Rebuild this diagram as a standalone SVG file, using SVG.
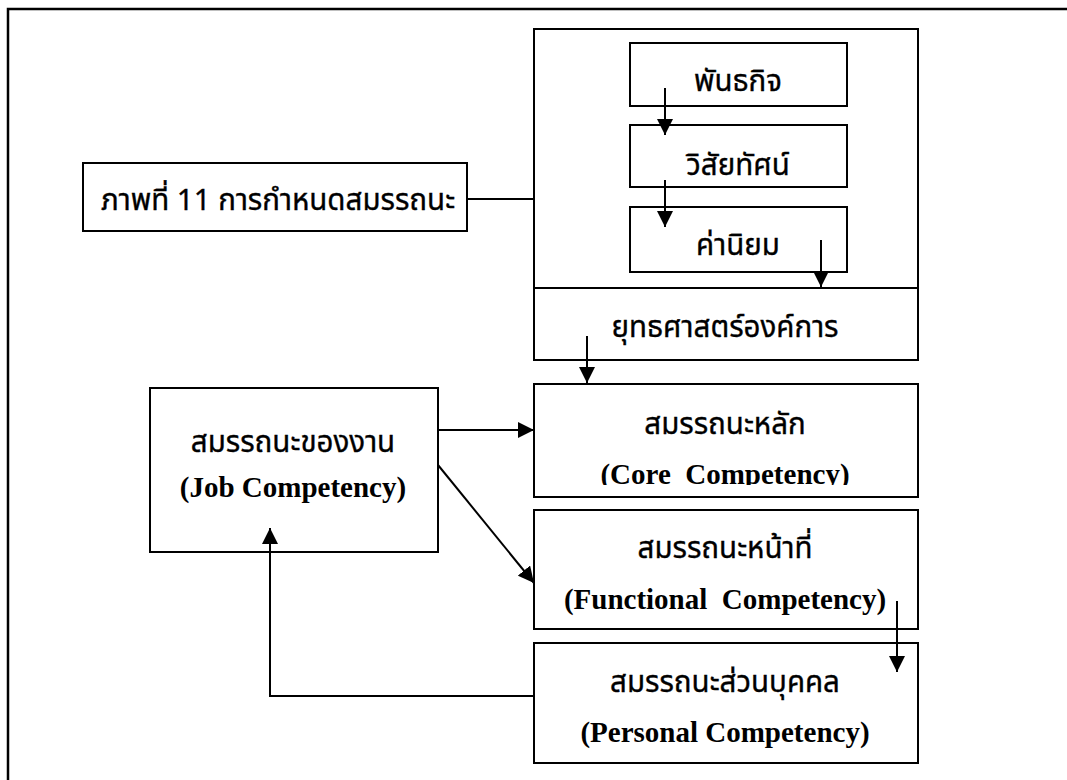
<svg xmlns="http://www.w3.org/2000/svg" width="1067" height="780" viewBox="0 0 1067 780">
<style>
.box{fill:#fff;stroke:#000;stroke-width:2}
.frame{fill:none;stroke:#000;stroke-width:2.5}
.th{font-family:"Noto Sans","Noto Sans Thai","DejaVu Sans",sans-serif;font-size:29.5px;fill:#000;stroke:#000;stroke-width:0.35;text-anchor:middle}
.en{font-family:"Liberation Serif",serif;font-weight:bold;font-size:29px;fill:#000;text-anchor:middle;white-space:pre}
.con{fill:none;stroke:#000;stroke-width:2}
</style>
<defs>
<marker id="ah" markerWidth="16" markerHeight="16" refX="16" refY="8" orient="auto" markerUnits="userSpaceOnUse">
<path d="M0,0 L16,8 L0,16 Z" fill="#000"/>
</marker>
<clipPath id="coreclip"><rect x="534" y="384" width="384" height="101"/></clipPath>
</defs>
<rect width="1067" height="780" fill="#fff"/>
<path class="frame" d="M8,780 L8,9 L1067,9"/>

<g id="org">
<rect class="box" x="534" y="29" width="384" height="331"/>
<line x1="534" y1="288" x2="918" y2="288" stroke="#000" stroke-width="2"/>
</g>
<g id="mission">
<rect class="box" x="630" y="43" width="217" height="63"/>
<text class="th" x="738" y="91">พันธกิจ</text>
</g>
<g id="vision">
<rect class="box" x="630" y="125" width="217" height="62"/>
<text class="th" x="738" y="175">วิสัยทัศน์</text>
</g>
<g id="values">
<rect class="box" x="630" y="207" width="217" height="65"/>
<text class="th" x="738" y="255">ค่านิยม</text>
</g>
<g id="strategy">
<text class="th" x="725" y="337">ยุทธศาสตร์องค์การ</text>
</g>
<g id="title">
<rect class="box" x="83" y="163" width="384" height="68"/>
<text class="th" x="278" y="210">ภาพที่ 11 การกำหนดสมรรถนะ</text>
</g>
<g id="core">
<rect class="box" x="534" y="384" width="384" height="113"/>
<text class="th" x="725" y="434">สมรรถนะหลัก</text>
<text class="en" x="725" y="484" clip-path="url(#coreclip)">(Core  Competency)</text>
</g>
<g id="functional">
<rect class="box" x="534" y="510" width="384" height="119"/>
<text class="th" x="725" y="558">สมรรถนะหน้าที่</text>
<text class="en" x="725" y="609">(Functional  Competency)</text>
</g>
<g id="personal">
<rect class="box" x="534" y="643" width="384" height="120"/>
<text class="th" x="725" y="692">สมรรถนะส่วนบุคคล</text>
<text class="en" x="725" y="742">(Personal Competency)</text>
</g>
<g id="job">
<rect class="box" x="150" y="388" width="288" height="164"/>
<text class="th" x="293" y="452">สมรรถนะของงาน</text>
<text class="en" x="293" y="497">(Job Competency)</text>
</g>

<g id="connectors">
<line class="con" x1="467" y1="199" x2="534" y2="199"/>
<line class="con" x1="665" y1="88" x2="665" y2="135" marker-end="url(#ah)"/>
<line class="con" x1="665" y1="180" x2="665" y2="227" marker-end="url(#ah)"/>
<line class="con" x1="821" y1="240" x2="821" y2="287" marker-end="url(#ah)"/>
<line class="con" x1="587" y1="336" x2="587" y2="383" marker-end="url(#ah)"/>
<line class="con" x1="438" y1="430" x2="534" y2="430" marker-end="url(#ah)"/>
<line class="con" x1="438" y1="465" x2="534" y2="583" marker-end="url(#ah)"/>
<line class="con" x1="897" y1="601" x2="897" y2="672" marker-end="url(#ah)"/>
<path class="con" d="M534,696 L270,696 L270,528" marker-end="url(#ah)"/>
</g>
</svg>
